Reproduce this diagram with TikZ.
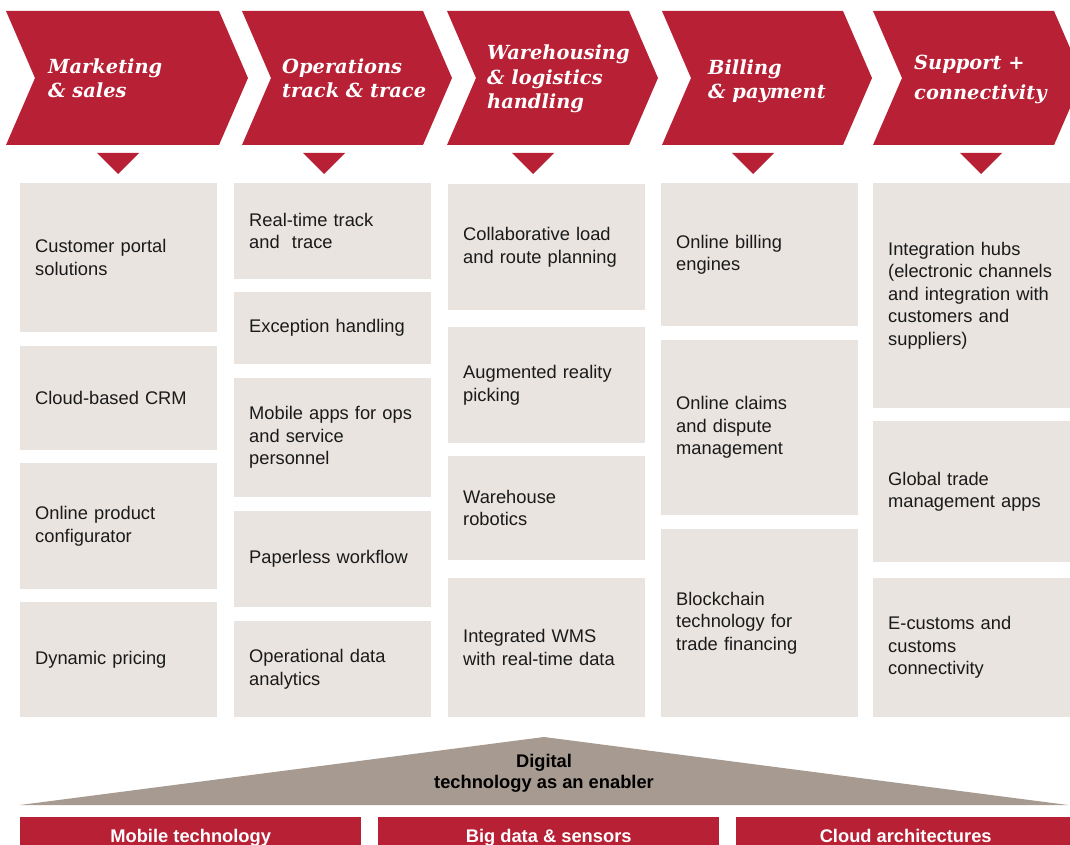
\documentclass[tikz,border=0pt]{standalone}
\usepackage{fontspec}
\setmainfont{Liberation Sans}
\newfontfamily\headfont{DejaVu Serif}
\usetikzlibrary{positioning}
\definecolor{pwcred}{RGB}{183,32,53}
\definecolor{cellfill}{RGB}{233,228,224}
\definecolor{enabler}{RGB}{166,154,145}
\definecolor{textdark}{RGB}{26,26,26}

\begin{document}
\begin{tikzpicture}[x=1pt, y=-1pt,
        cell/.style={fill=cellfill, anchor=north west, text width=167pt, inner xsep=15pt,
                inner ysep=0pt, align=left, text=textdark,
                font=\fontsize{18.3}{22.5}\selectfont},
        stage/.style={anchor=base west, align=left, text=white, inner sep=0pt,
                font=\headfont\bfseries\itshape\fontsize{19.4}{24.5}\selectfont},
        pillar/.style={fill=pwcred, anchor=north west, minimum width=341pt, minimum height=45pt,
                inner sep=0pt},
        pillartext/.style={anchor=base, text=white, inner sep=0pt,
                font=\bfseries\fontsize{18.3}{22}\selectfont}]
        \useasboundingbox (0,0) rectangle (1070,845);
        \clip (0,0) rectangle (1070,845);

        \foreach \l/\r in {6/219, 242/423, 447/629, 662/843, 873/1054}
                \fill[pwcred] (\l,11) -- (\r,11) -- (\r+29,78) -- (\r,145) -- (\l,145) -- (\l+29,78) -- cycle;
        \foreach \c in {118, 324, 533, 753, 981}
                \fill[pwcred] (\c-21,153) -- (\c+21,153) -- (\c,174) -- cycle;

        \node[stage] (mkt) at (48,98) {Marketing\\\& sales};
        \node[stage] (ops) at (282,98) {Operations\\track \& trace};
        \node[stage] (whs) at (487,109) {Warehousing\\\& logistics\\handling};
        \node[stage] (bil) at (708,99) {Billing\\\& payment};
        \node[stage, font=\headfont\bfseries\itshape\fontsize{19.4}{30}\selectfont] (sup) at (914,100) {Support +\\connectivity};

        \foreach \t/\b/\txt [count=\i] in {183/332/{Customer portal\\solutions}, 346/450/{Cloud-based CRM},
                        463/589/{Online product\\configurator}, 602/717/{Dynamic pricing}}
                \node[cell, minimum height=\b-\t] (m\i) at (20,\t) {\txt};
        \foreach \t/\b/\txt [count=\i] in {183/279/{Real-time track\\and\ \ trace}, 292/364/{Exception handling},
                        378/497/{Mobile apps for ops\\and service\\personnel}, 511/607/{Paperless workflow},
                        621/717/{Operational data\\analytics}}
                \node[cell, minimum height=\b-\t] (o\i) at (234,\t) {\txt};
        \foreach \t/\b/\txt [count=\i] in {184/310/{Collaborative load\\and route planning},
                        327/443/{Augmented reality\\picking}, 456/560/{Warehouse\\robotics},
                        578/717/{Integrated WMS\\with real-time data}}
                \node[cell, minimum height=\b-\t] (w\i) at (448,\t) {\txt};
        \foreach \t/\b/\txt [count=\i] in {183/326/{Online billing\\engines},
                        340/515/{Online claims\\and dispute\\management},
                        529/717/{Blockchain\\technology for\\trade financing}}
                \node[cell, minimum height=\b-\t] (b\i) at (661,\t) {\txt};
        \foreach \t/\b/\txt [count=\i] in {183/408/{Integration hubs\\(electronic channels\\and integration with\\customers and\\suppliers)},
                        421/562/{Global trade\\management apps},
                        578/717/{E-customs and\\customs\\connectivity}}
                \node[cell, minimum height=\b-\t] (s\i) at (873,\t) {\txt};

        \fill[enabler] (20,805) -- (544,737) -- (1068,805) -- cycle;
        \node[anchor=base, align=center, text=black, inner sep=0pt,
                font=\bfseries\fontsize{18.3}{21}\selectfont] (dig) at (544,788) {Digital\\technology as an enabler};

        \node[pillar] (mob) at (20,817) {};
        \node[pillar] (big) at (378,817) {};
        \node[pillar] (cld) at (736,817) {};
        \node[pillartext] at (mob.center |- 0,842) {Mobile technology};
        \node[pillartext] at (big.center |- 0,842) {Big data \& sensors};
        \node[pillartext] at ([xshift=-1pt]cld.center |- 0,842) {Cloud architectures};
\end{tikzpicture}
\end{document}
